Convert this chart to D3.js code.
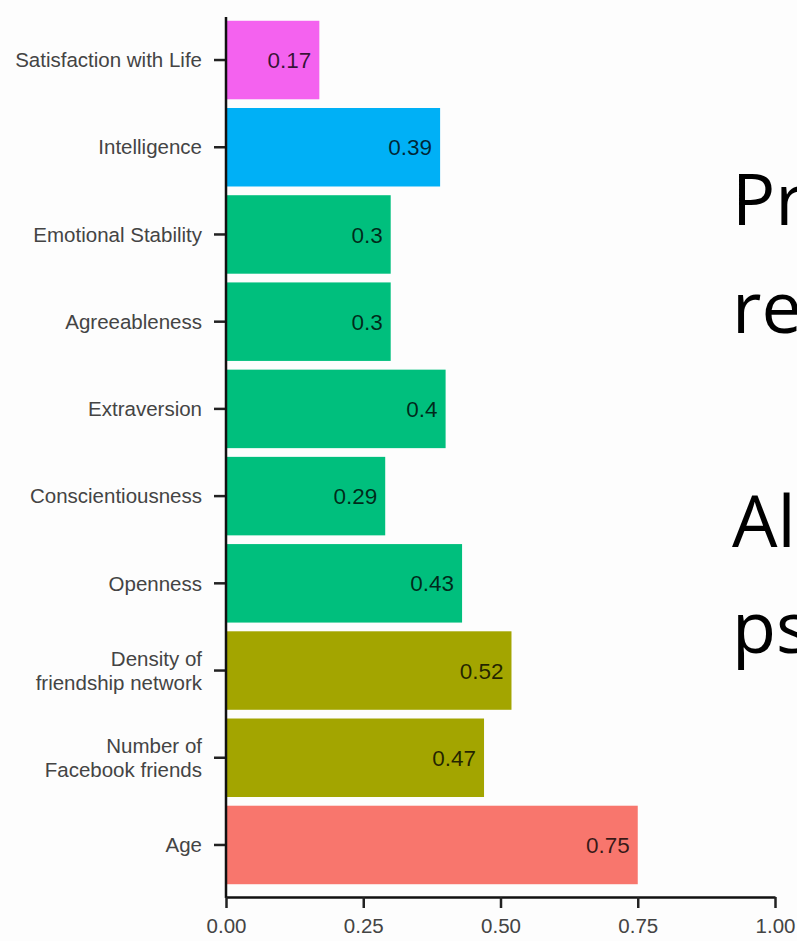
<!DOCTYPE html>
<html>
<head>
<meta charset="utf-8">
<script src="https://cdn.jsdelivr.net/npm/d3@7"></script>
<style>
  html, body { margin: 0; padding: 0; background: #fdfdfd; }
  svg { display: block; }
</style>
</head>
<body>
<div id="chart"></div>
<script>
// chart data, top to bottom
const categories = [
    'Satisfaction with Life', 'Intelligence', 'Emotional Stability', 'Agreeableness',
    'Extraversion', 'Conscientiousness', 'Openness',
    'Density of\nfriendship network', 'Number of\nFacebook friends', 'Age'
];
const values = [0.17, 0.39, 0.3, 0.3, 0.4, 0.29, 0.43, 0.52, 0.47, 0.75];
const groups = ['wellbeing', 'intelligence', 'personality', 'personality', 'personality',
    'personality', 'personality', 'social', 'social', 'demographic'];
const groupNames = ['demographic', 'social', 'personality', 'intelligence', 'wellbeing'];
const groupColors = ['#F8766D', '#A3A500', '#00BF7D', '#00B0F6', '#F462EF'];
const xTicks = [0, 0.25, 0.5, 0.75, 1];

// slide text to the right (cut off at the edge in the original)
const slideLines = ['Pr', 're', 'Al', 'ps'];

const width = 797, height = 941;

const svg = d3.select('#chart')
    .append('svg')
    .attr('width', width)
    .attr('height', height);

const x = d3.scaleLinear().domain([0, 1]).range([226, 775]);
const y = d3.scaleBand()
    .domain(categories)
    .range([7.7, 897.3])
    .paddingInner(0.1)
    .paddingOuter(0.15);
const color = d3.scaleOrdinal().domain(groupNames).range(groupColors);

const data = categories.map((c, i) => ({ name: c, value: values[i], group: groups[i] }));

// bars
svg.append('g')
    .selectAll('rect')
    .data(data)
    .enter().append('rect')
    .attr('x', x(0))
    .attr('y', d => y(d.name))
    .attr('width', d => x(d.value) - x(0))
    .attr('height', y.bandwidth())
    .attr('fill', d => color(d.group));

// value labels inside bars
svg.append('g')
    .selectAll('text')
    .data(data)
    .enter().append('text')
    .attr('x', d => x(d.value) - 8)
    .attr('y', d => y(d.name) + y.bandwidth() / 2)
    .attr('dy', '0.36em')
    .attr('text-anchor', 'end')
    .attr('fill', '#000')
    .attr('fill-opacity', 0.78)
    .style('font-family', '"Liberation Sans", Arial, sans-serif')
    .style('font-size', '22.5px')
    .text(d => d.value);

// y axis
const yAxis = svg.append('g')
    .attr('transform', `translate(${x(0)},0)`)
    .call(d3.axisLeft(y).tickSize(12).tickSizeOuter(0).tickFormat(''));
yAxis.select('.domain').remove();
yAxis.selectAll('.tick line').attr('stroke', '#222').attr('stroke-width', 2.5);
yAxis.append('line')
    .attr('x1', 0).attr('x2', 0)
    .attr('y1', 17).attr('y2', 898)
    .attr('stroke', '#111')
    .attr('stroke-width', 2.5);

// category labels (some on two lines)
yAxis.selectAll('.tick')
    .append('text')
    .attr('x', -24)
    .attr('text-anchor', 'end')
    .attr('fill', '#444')
    .style('font-family', '"Liberation Sans", Arial, sans-serif')
    .style('font-size', '20.5px')
    .each(function(d) {
        const lines = d.split('\n');
        const t = d3.select(this);
        lines.forEach((line, i) => {
            t.append('tspan')
                .attr('x', -24)
                .attr('y', (i - (lines.length - 1) / 2) * 24)
                .attr('dy', '0.35em')
                .text(line);
        });
    });

// x axis
const xAxis = svg.append('g')
    .attr('transform', 'translate(0,897)')
    .call(d3.axisBottom(x).tickValues(xTicks).tickSize(11).tickSizeOuter(0).tickPadding(10)
        .tickFormat(d3.format('.2f')));
xAxis.select('.domain').attr('stroke', '#111').attr('stroke-width', 2.5);
xAxis.selectAll('.tick line').attr('stroke', '#222').attr('stroke-width', 2.5);
xAxis.selectAll('.tick text')
    .attr('fill', '#444')
    .style('font-family', '"Liberation Sans", Arial, sans-serif')
    .style('font-size', '20.5px');

// slide text
svg.append('g')
    .selectAll('text')
    .data(slideLines)
    .enter().append('text')
    .attr('x', 732)
    .attr('y', (d, i) => [225, 333, 547, 653][i])
    .attr('fill', '#000')
    .style('font-family', '"Open Sans", sans-serif')
    .style('font-size', '72px')
    .text(d => d);
</script>
</body>
</html>
